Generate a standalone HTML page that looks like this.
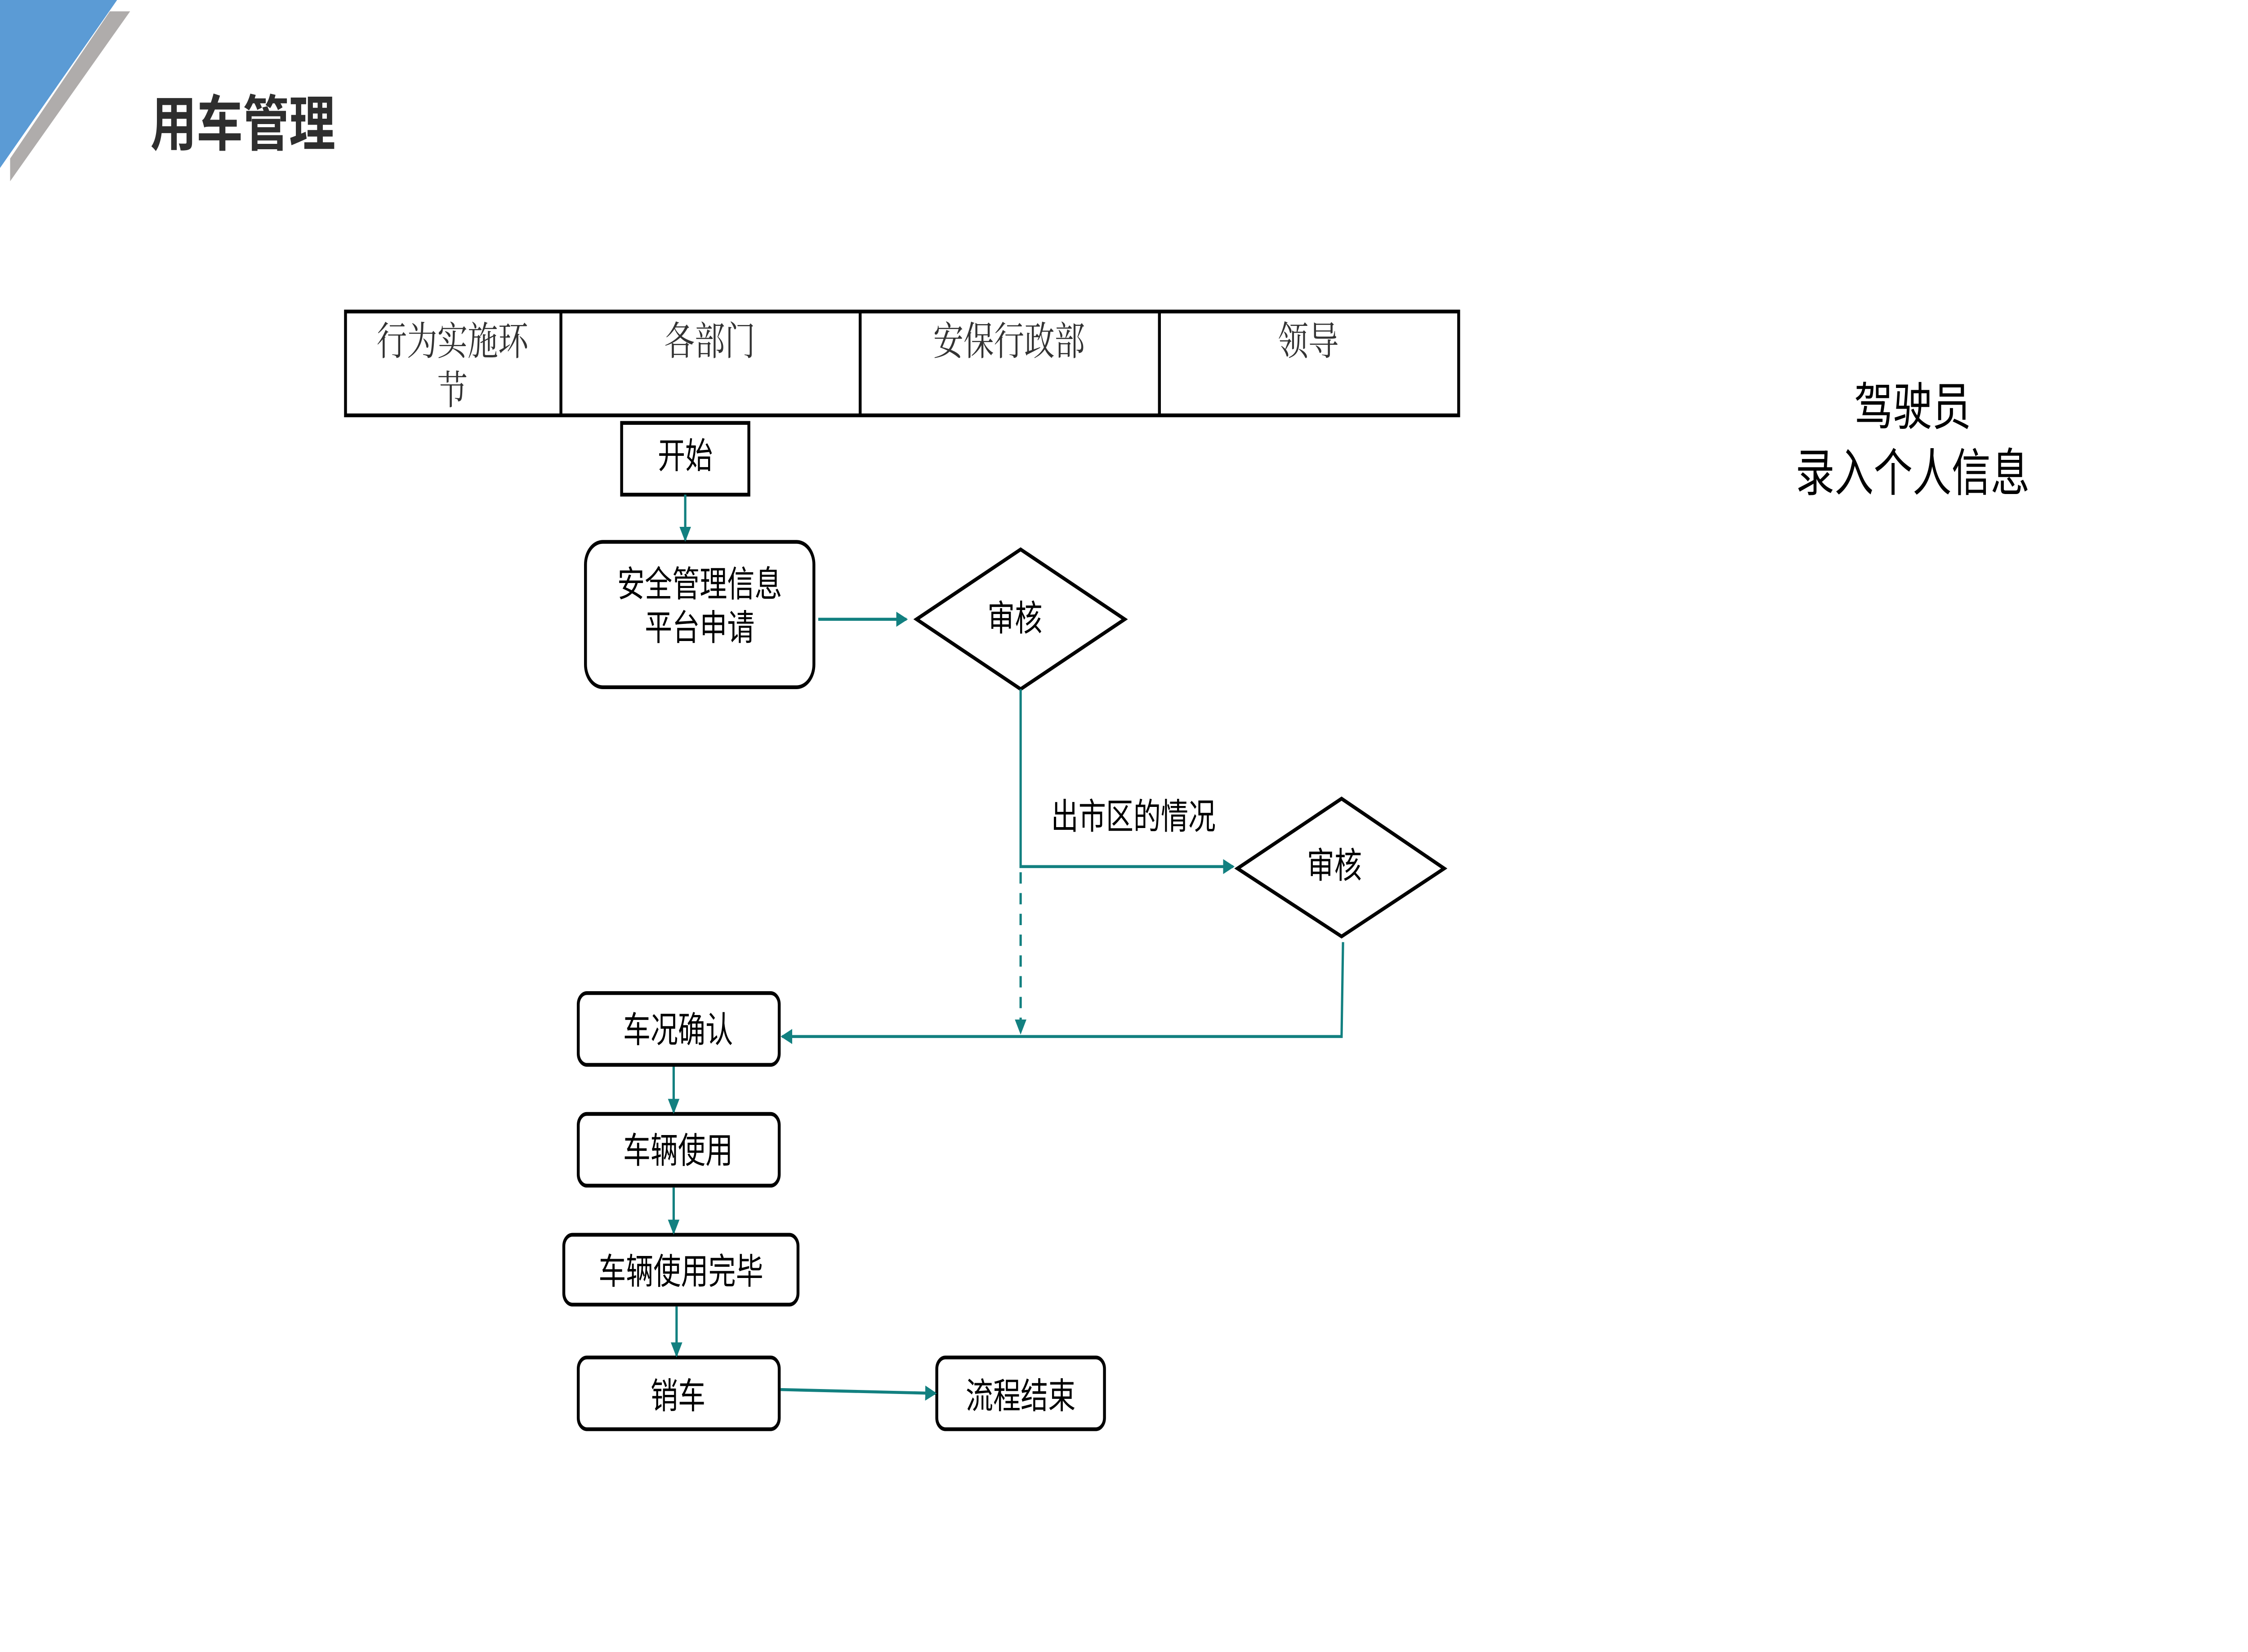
<!DOCTYPE html>
<html><head><meta charset="utf-8"><style>
html,body{margin:0;padding:0;background:#fff;width:100vw;height:100vh;overflow:hidden;}
svg{display:block;position:absolute;left:0;top:0;width:100vw;height:100vh;}
text{font-family:"Liberation Sans","Noto Sans CJK SC",sans-serif;}
.s{font-family:"Noto Serif CJK SC",serif;}
</style></head><body>
<svg viewBox="0 0 1555 875" preserveAspectRatio="none" xmlns="http://www.w3.org/2000/svg">
<defs>
<marker id="a" markerWidth="8" markerHeight="8" refX="7" refY="4" orient="auto" markerUnits="userSpaceOnUse"><path d="M0,0 L8,4 L0,8 z" fill="#128080"/></marker>
</defs>
<rect width="1555" height="875" fill="#fff"/>
<polygon points="76,6 90,6 7,96 7,84" fill="#afacab"/>
<polygon points="0,0 81,0 0,89" fill="#5b9bd5"/>
<text x="104" y="77" font-size="32" font-weight="bold" fill="#2e2e2e">用车管理</text>

<g fill="none" stroke="#000" stroke-width="2">
<rect x="239" y="165" width="770" height="55"/>
<line x1="388" y1="165" x2="388" y2="220"/>
<line x1="595" y1="165" x2="595" y2="220"/>
<line x1="802" y1="165" x2="802" y2="220"/>
</g>
<g class="s" font-size="21" fill="#333" text-anchor="middle">
<text class="s" x="313" y="188">行为实施环</text>
<text class="s" x="313" y="214">节</text>
<text class="s" x="491" y="188">各部门</text>
<text class="s" x="698" y="188">安保行政部</text>
<text class="s" x="905" y="188">领导</text>
</g>

<g fill="none" stroke="#000" stroke-width="2">
<rect x="430" y="224" width="88" height="38"/>
<rect x="405" y="287" width="158" height="77" rx="12"/>
<polygon points="706,291 778,328 706,365 634,328"/>
<polygon points="928,423 999,460 928,496 856,460"/>
<rect x="400" y="526" width="139" height="38" rx="6"/>
<rect x="400" y="590" width="139" height="38" rx="6"/>
<rect x="390" y="654" width="162" height="37" rx="6"/>
<rect x="400" y="719" width="139" height="38" rx="6"/>
<rect x="648" y="719" width="116" height="38" rx="6"/>
</g>

<g stroke="#128080" stroke-width="1.6" fill="none">
<line x1="474" y1="262" x2="474" y2="286" marker-end="url(#a)"/>
<line x1="566" y1="328" x2="627" y2="328" marker-end="url(#a)"/>
<polyline points="706,365 706,459 853,459" marker-end="url(#a)"/>
<line x1="706" y1="462" x2="706" y2="547" stroke-dasharray="6,5" marker-end="url(#a)"/>
<polyline points="929,499 928,549 541,549" marker-end="url(#a)"/>
<line x1="466" y1="565" x2="466" y2="589" marker-end="url(#a)"/>
<line x1="466" y1="629" x2="466" y2="653" marker-end="url(#a)"/>
<line x1="468" y1="692" x2="468" y2="718" marker-end="url(#a)"/>
<line x1="540" y1="736" x2="647" y2="738" marker-end="url(#a)"/>
</g>

<g font-size="19" fill="#000" text-anchor="middle">
<text x="474" y="248">开始</text>
<text x="484" y="316">安全管理信息</text>
<text x="484" y="339">平台申请</text>
<text x="702" y="334">审核</text>
<text x="923" y="465">审核</text>
<text x="784" y="439">出市区的情况</text>
<text x="469" y="552">车况确认</text>
<text x="469" y="616">车辆使用</text>
<text x="471" y="680">车辆使用完毕</text>
<text x="469" y="746">销车</text>
<text x="706" y="746">流程结束</text>
<text x="1323" y="225" font-size="27">驾驶员</text>
<text x="1323" y="260" font-size="27">录入个人信息</text>
</g>
</svg>
</body></html>
